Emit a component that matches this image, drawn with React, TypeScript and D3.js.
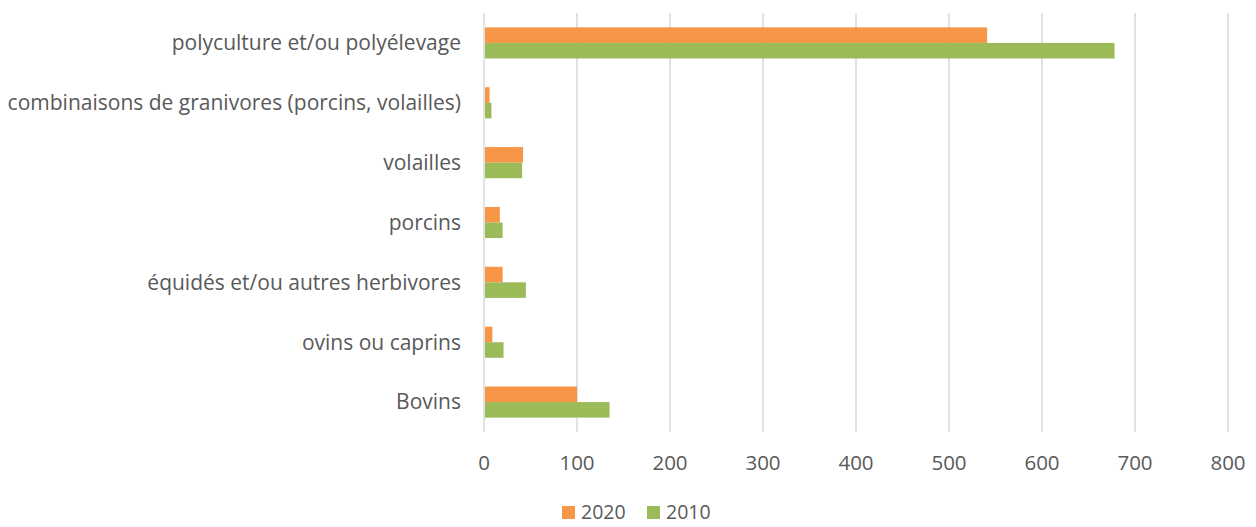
import React from 'react';
import * as d3 from 'd3';

const categories = [
  'polyculture et/ou polyélevage',
  'combinaisons de granivores (porcins, volailles)',
  'volailles',
  'porcins',
  'équidés et/ou autres herbivores',
  'ovins ou caprins',
  'Bovins',
];
const values2020 = [541, 6, 42, 17, 20, 9, 100];
const values2010 = [678, 8, 41, 20, 45, 21, 135];
const seriesNames = ['2020', '2010'];
const seriesColors = ['#F79646', '#9BBB59'];
const xTicks = [0, 100, 200, 300, 400, 500, 600, 700, 800];

const W = 1256;
const H = 527;

export default function App() {
  const margin = { top: 13, right: 28, bottom: 95, left: 484 };
  const plotW = W - margin.left - margin.right;
  const plotH = H - margin.top - margin.bottom;

  const x = d3.scaleLinear().domain([0, 800]).range([0, plotW]);
  const y = d3.scaleBand().domain(categories).range([0, plotH]).paddingInner(0.48).paddingOuter(0.24);
  const sub = d3.scaleBand().domain(seriesNames).range([0, y.bandwidth()]);

  const series = [values2020, values2010];
  const font = '"Open Sans", sans-serif';
  const fs = 20.5;
  const textColor = '#595959';

  return (
    <svg width={W} height={H} style={{ position: 'absolute', left: 0, top: 0, background: '#fff' }}>
      <g transform={'translate(' + margin.left + ',' + margin.top + ')'}>
        {xTicks.map((t) => (
          <line key={'g' + t} x1={x(t)} x2={x(t)} y1={0} y2={plotH} stroke="#d9d9d9" strokeWidth={1.5} />
        ))}
        {categories.map((c, i) => (
          <g key={c} transform={'translate(0,' + y(c) + ')'}>
            {series.map((vals, s) => (
              <rect
                key={s}
                x={x(0) + 1}
                y={sub(seriesNames[s])}
                width={Math.max(0, x(vals[i]) - x(0) - 1)}
                height={sub.bandwidth()}
                fill={seriesColors[s]}
              />
            ))}
            <text
              x={-23}
              y={y.bandwidth() / 2}
              dy="0.35em"
              textAnchor="end"
              fontFamily={font}
              fontSize={21}
              fill={textColor}
            >
              {c}
            </text>
          </g>
        ))}
        {xTicks.map((t) => (
          <text
            key={'t' + t}
            x={x(t)}
            y={plotH + 31}
            dy="0.35em"
            textAnchor="middle"
            fontFamily={font}
            fontSize={fs}
            fill={textColor}
          >
            {t}
          </text>
        ))}
      </g>
      <g transform="translate(562,512.5)">
        {seriesNames.map((n, i) => (
          <g key={n} transform={'translate(' + i * 85 + ',0)'}>
            <rect x={0} y={-6.5} width={13} height={13} fill={seriesColors[i]} />
            <text x={19} y={0} dy="0.35em" fontFamily={font} fontSize={19.5} fill={textColor}>
              {n}
            </text>
          </g>
        ))}
      </g>
    </svg>
  );
}
